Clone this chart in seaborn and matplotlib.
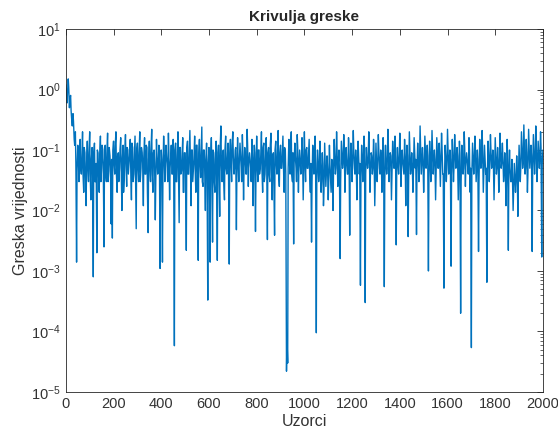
import numpy as np
import pandas as pd
import seaborn as sns
import matplotlib.pyplot as plt
from matplotlib.ticker import LogLocator, FixedLocator

# Error values, one every 5 samples (0 .. 2000):
# the peaks and the dips of the curve
step = 5
greska = [
    # 0 - 95
    1.2, 0.6, 1.5, 0.5, 0.8, 0.3, 0.4, 0.15, 0.2, 0.0014,
    0.12, 0.03, 0.15, 0.04, 0.2, 0.02, 0.09, 0.012, 0.14, 0.03,
    # 100 - 195
    0.2, 0.015, 0.11, 0.0008, 0.13, 0.03, 0.002, 0.09, 0.02, 0.17,
    0.05, 0.1, 0.0025, 0.12, 0.03, 0.19, 0.045, 0.08, 0.006, 0.0035,
    # 200 - 295
    0.14, 0.04, 0.2, 0.02, 0.09, 0.05, 0.16, 0.01, 0.12, 0.035,
    0.18, 0.025, 0.1, 0.06, 0.15, 0.015, 0.11, 0.04, 0.17, 0.005,
    # 300 - 395
    0.13, 0.03, 0.2, 0.05, 0.09, 0.012, 0.16, 0.04, 0.11, 0.0043,
    0.14, 0.03, 0.22, 0.02, 0.1, 0.007, 0.15, 0.04, 0.12, 0.0011,
    # 400 - 495
    0.1, 0.0014, 0.17, 0.03, 0.12, 0.05, 0.19, 0.015, 0.08, 0.04,
    0.15, 0.000058, 0.13, 0.03, 0.2, 0.0063, 0.11, 0.045, 0.16, 0.02,
    # 500 - 595
    0.09, 0.0022, 0.14, 0.04, 0.21, 0.012, 0.1, 0.05, 0.17, 0.02,
    0.12, 0.0015, 0.15, 0.035, 0.24, 0.025, 0.1, 0.01, 0.13, 0.00033,
    # 600 - 695
    0.11, 0.0014, 0.16, 0.003, 0.09, 0.02, 0.14, 0.0015, 0.12, 0.008,
    0.25, 0.03, 0.1, 0.015, 0.17, 0.04, 0.13, 0.0013, 0.15, 0.03,
    # 700 - 795
    0.2, 0.04, 0.1, 0.0048, 0.16, 0.03, 0.13, 0.05, 0.18, 0.015,
    0.11, 0.04, 0.22, 0.025, 0.09, 0.05, 0.15, 0.012, 0.12, 0.0045,
    # 800 - 895
    0.17, 0.03, 0.1, 0.05, 0.2, 0.02, 0.13, 0.04, 0.16, 0.0033,
    0.11, 0.03, 0.19, 0.015, 0.09, 0.0039, 0.14, 0.04, 0.21, 0.025,
    # 900 - 995
    0.12, 0.05, 0.17, 0.02, 0.1, 0.000022, 0.00003, 0.15, 0.04, 0.2,
    0.03, 0.0028, 0.13, 0.05, 0.18, 0.02, 0.1, 0.04, 0.16, 0.015,
    # 1000 - 1095
    0.2, 0.03, 0.11, 0.05, 0.15, 0.02, 0.003, 0.12, 0.04, 0.17,
    0.000095, 0.1, 0.03, 0.14, 0.02, 0.09, 0.012, 0.13, 0.025, 0.08,
    # 1100 - 1195
    0.015, 0.12, 0.03, 0.07, 0.01, 0.15, 0.04, 0.2, 0.025, 0.1,
    0.0016, 0.14, 0.05, 0.18, 0.02, 0.11, 0.04, 0.16, 0.0039, 0.13,
    # 1200 - 1295
    0.03, 0.21, 0.05, 0.1, 0.015, 0.14, 0.04, 0.00058, 0.12, 0.03,
    0.17, 0.0003, 0.11, 0.05, 0.2, 0.02, 0.09, 0.04, 0.15, 0.012,
    # 1300 - 1395
    0.13, 0.03, 0.18, 0.05, 0.1, 0.02, 0.16, 0.00055, 0.12, 0.04,
    0.22, 0.03, 0.09, 0.015, 0.14, 0.05, 0.17, 0.0027, 0.11, 0.04,
    # 1400 - 1495
    0.19, 0.025, 0.1, 0.05, 0.15, 0.012, 0.12, 0.0037, 0.2, 0.04,
    0.09, 0.02, 0.16, 0.05, 0.004, 0.13, 0.03, 0.25, 0.04, 0.11,
    # 1500 - 1595
    0.02, 0.17, 0.05, 0.12, 0.001, 0.14, 0.03, 0.21, 0.04, 0.1,
    0.015, 0.16, 0.05, 0.13, 0.025, 0.19, 0.04, 0.00052, 0.12, 0.03,
    # 1600 - 1695
    0.22, 0.04, 0.1, 0.0012, 0.15, 0.03, 0.18, 0.05, 0.11, 0.015,
    0.14, 0.0002, 0.12, 0.04, 0.2, 0.025, 0.09, 0.05, 0.16, 0.02,
    # 1700 - 1795
    0.000054, 0.13, 0.04, 0.17, 0.03, 0.1, 0.0021, 0.15, 0.05, 0.21,
    0.02, 0.12, 0.04, 0.00065, 0.14, 0.03, 0.18, 0.05, 0.1, 0.015,
    # 1800 - 1895
    0.16, 0.04, 0.11, 0.02, 0.19, 0.05, 0.13, 0.03, 0.09, 0.012,
    0.15, 0.0022, 0.1, 0.03, 0.07, 0.01, 0.06, 0.02, 0.08, 0.008,
    # 1900 - 2000
    0.12, 0.03, 0.2, 0.05, 0.26, 0.04, 0.15, 0.02, 0.22, 0.05,
    0.12, 0.0021, 0.18, 0.04, 0.25, 0.03, 0.14, 0.05, 0.2, 0.0017,
    0.1,
]

# In-between samples (2, 7, 12, ... 1997): the dense middle of the band
offset = 2
greska_sredina = [
    1.0, 0.9, 1.1, 0.7, 0.45, 0.25, 0.3, 0.12, 0.06, 0.05,
    0.08, 0.1, 0.05, 0.07, 0.04, 0.11, 0.03, 0.06, 0.05, 0.09,
    0.04, 0.07, 0.05, 0.09, 0.03, 0.06, 0.1, 0.04, 0.08, 0.03,
    0.12, 0.05, 0.06, 0.04, 0.09, 0.03, 0.11, 0.05, 0.07, 0.1,
    0.06, 0.12, 0.04, 0.08, 0.03, 0.1, 0.05, 0.07, 0.02, 0.09,
    0.06, 0.11, 0.04, 0.08, 0.05, 0.13, 0.03, 0.07, 0.04, 0.1,
    0.05, 0.09, 0.03, 0.11, 0.06, 0.08, 0.04, 0.12, 0.02, 0.07,
    0.05, 0.1, 0.04, 0.09, 0.06, 0.03, 0.08, 0.05, 0.11, 0.04,
    0.07, 0.04, 0.1, 0.06, 0.08, 0.03, 0.09, 0.05, 0.12, 0.04,
    0.06, 0.1, 0.03, 0.08, 0.05, 0.11, 0.04, 0.07, 0.02, 0.09,
    0.05, 0.11, 0.04, 0.08, 0.06, 0.1, 0.03, 0.07, 0.05, 0.12,
    0.04, 0.09, 0.06, 0.08, 0.03, 0.1, 0.05, 0.07, 0.04, 0.06,
    0.04, 0.08, 0.05, 0.1, 0.03, 0.07, 0.04, 0.09, 0.05, 0.11,
    0.06, 0.08, 0.03, 0.1, 0.05, 0.07, 0.04, 0.09, 0.06, 0.12,
    0.08, 0.05, 0.11, 0.04, 0.07, 0.06, 0.09, 0.03, 0.1, 0.05,
    0.08, 0.04, 0.12, 0.06, 0.07, 0.03, 0.1, 0.05, 0.09, 0.04,
    0.06, 0.1, 0.04, 0.08, 0.05, 0.11, 0.03, 0.07, 0.06, 0.09,
    0.04, 0.12, 0.05, 0.08, 0.03, 0.1, 0.06, 0.07, 0.04, 0.09,
    0.05, 0.08, 0.06, 0.11, 0.04, 0.00008, 0.05, 0.07, 0.1, 0.04,
    0.09, 0.06, 0.08, 0.03, 0.11, 0.05, 0.07, 0.06, 0.1, 0.04,
    0.07, 0.1, 0.05, 0.08, 0.04, 0.06, 0.03, 0.09, 0.05, 0.06,
    0.03, 0.07, 0.04, 0.08, 0.03, 0.06, 0.02, 0.07, 0.04, 0.05,
    0.03, 0.06, 0.02, 0.05, 0.04, 0.08, 0.05, 0.1, 0.06, 0.04,
    0.03, 0.09, 0.06, 0.11, 0.05, 0.07, 0.04, 0.1, 0.05, 0.08,
    0.06, 0.1, 0.04, 0.07, 0.05, 0.09, 0.06, 0.03, 0.08, 0.05,
    0.11, 0.04, 0.07, 0.06, 0.1, 0.04, 0.08, 0.05, 0.09, 0.03,
    0.07, 0.05, 0.1, 0.04, 0.08, 0.06, 0.09, 0.03, 0.07, 0.05,
    0.12, 0.06, 0.08, 0.04, 0.1, 0.05, 0.09, 0.04, 0.07, 0.06,
    0.1, 0.05, 0.07, 0.04, 0.09, 0.06, 0.08, 0.03, 0.11, 0.05,
    0.06, 0.04, 0.1, 0.07, 0.05, 0.08, 0.04, 0.12, 0.06, 0.07,
    0.04, 0.1, 0.06, 0.08, 0.03, 0.09, 0.05, 0.11, 0.06, 0.07,
    0.04, 0.1, 0.05, 0.08, 0.06, 0.11, 0.04, 0.03, 0.08, 0.05,
    0.11, 0.06, 0.07, 0.04, 0.09, 0.05, 0.1, 0.06, 0.08, 0.04,
    0.09, 0.03, 0.07, 0.05, 0.11, 0.06, 0.07, 0.04, 0.1, 0.05,
    0.04, 0.08, 0.06, 0.1, 0.05, 0.07, 0.03, 0.09, 0.06, 0.11,
    0.04, 0.08, 0.05, 0.04, 0.09, 0.05, 0.1, 0.06, 0.07, 0.04,
    0.09, 0.05, 0.07, 0.04, 0.1, 0.06, 0.08, 0.04, 0.06, 0.03,
    0.08, 0.04, 0.05, 0.03, 0.04, 0.02, 0.04, 0.03, 0.05, 0.03,
    0.07, 0.05, 0.11, 0.06, 0.13, 0.05, 0.09, 0.04, 0.12, 0.07,
    0.08, 0.05, 0.1, 0.06, 0.13, 0.05, 0.09, 0.07, 0.11, 0.06,
]

x_ticks = [0, 200, 400, 600, 800, 1000, 1200, 1400, 1600, 1800, 2000]
y_ticks = [1e-5, 1e-4, 1e-3, 1e-2, 1e-1, 1e0, 1e1]
y_tick_labels = [r'$10^{-5}$', r'$10^{-4}$', r'$10^{-3}$', r'$10^{-2}$',
                 r'$10^{-1}$', r'$10^{0}$', r'$10^{1}$']

df = pd.concat([
    pd.DataFrame({'Uzorci': np.arange(len(greska)) * step, 'Greska': greska}),
    pd.DataFrame({'Uzorci': np.arange(len(greska_sredina)) * step + offset,
                  'Greska': greska_sredina}),
]).sort_values('Uzorci').reset_index(drop=True)

sns.set_style('white')
plt.rcParams['font.family'] = ['Liberation Sans', 'DejaVu Sans']
plt.rcParams['mathtext.default'] = 'regular'

fig = plt.figure(figsize=(5.58, 4.34), dpi=100)
ax = fig.add_axes([0.118, 0.097, 0.855, 0.836])

sns.lineplot(data=df, x='Uzorci', y='Greska', ax=ax, color='#0072BD',
             linewidth=1.0, estimator=None, sort=False)

ax.set_yscale('log')
ax.set_xlim(0, 2000)
ax.set_ylim(1e-5, 1e1)
ax.set_xticks(x_ticks)
ax.yaxis.set_major_locator(FixedLocator(y_ticks))
ax.set_yticklabels(y_tick_labels)
ax.yaxis.set_minor_locator(LogLocator(base=10, subs=np.arange(2, 10), numticks=20))

ax.tick_params(axis='both', which='both', direction='in', top=True, right=True,
               colors='#262626', labelsize=10.5, labelcolor='#333333')
ax.tick_params(which='major', length=4, width=0.6)
ax.tick_params(which='minor', length=2, width=0.5)
for sp in ax.spines.values():
    sp.set_color('#262626')
    sp.set_linewidth(0.6)

ax.set_title('Krivulja greske', fontsize=11, fontweight='bold', pad=6)
ax.set_xlabel('Uzorci', fontsize=11.5, labelpad=2, color='#333333')
ax.set_ylabel('Greska vrijednosti', fontsize=11.5, labelpad=2, color='#333333')

fig.savefig('out.png', dpi=100)
